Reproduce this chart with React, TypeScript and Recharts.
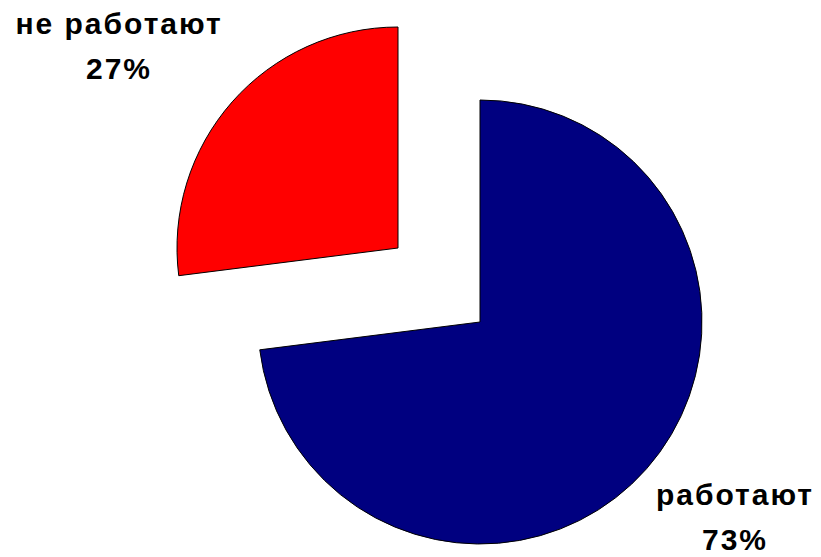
import { PieChart, Pie, Cell } from 'recharts'

const categories = ['работают', 'не работают']
const shares = [73, 27]
const colors = ['#000080', '#FF0000']

// where each label sits, measured from its own (exploded) slice centre
const labelOffset = [
  { dx: 255, dy: 183 },
  { dx: -279, dy: -214 },
]

const data = categories.map((name, i) => ({ name, value: shares[i] }))

function makeLabel(show: number) {
  return (p: any) => {
    if (p.index !== show) return null
    const o = labelOffset[p.index]
    const x = p.cx + o.dx
    const y = p.cy + o.dy
    return (
      <text x={x} y={y} textAnchor="middle" fill="#000"
            style={{ fontFamily: '"Liberation Sans", Arial, sans-serif', fontWeight: 700, fontSize: 30, letterSpacing: 2 }}>
        <tspan x={x} y={y}>{p.name}</tspan>
        <tspan x={x} y={y + 45}>{`${Math.round(p.percent * 100)}%`}</tspan>
      </text>
    )
  }
}

export default function App() {
  return (
    <div style={{ position: 'absolute', left: 0, top: 0, background: '#fff' }}>
      <PieChart width={821} height={557} margin={{ top: 0, right: 0, bottom: 0, left: 0 }}>
        {/* main slice */}
        <Pie data={data} dataKey="value" nameKey="name" cx={480} cy={322} outerRadius={222}
             startAngle={90} endAngle={-270} isAnimationActive={false}
             labelLine={false} label={makeLabel(0)}>
          {data.map((d, i) => (
            <Cell key={d.name} fill={i === 0 ? colors[0] : 'none'} stroke={i === 0 ? '#000' : 'none'} strokeWidth={1} />
          ))}
        </Pie>
        {/* exploded slice */}
        <Pie data={data} dataKey="value" nameKey="name" cx={398} cy={248} outerRadius={221}
             startAngle={90} endAngle={-270} isAnimationActive={false}
             labelLine={false} label={makeLabel(1)}>
          {data.map((d, i) => (
            <Cell key={d.name} fill={i === 1 ? colors[1] : 'none'} stroke={i === 1 ? '#000' : 'none'} strokeWidth={1} />
          ))}
        </Pie>
      </PieChart>
    </div>
  )
}
